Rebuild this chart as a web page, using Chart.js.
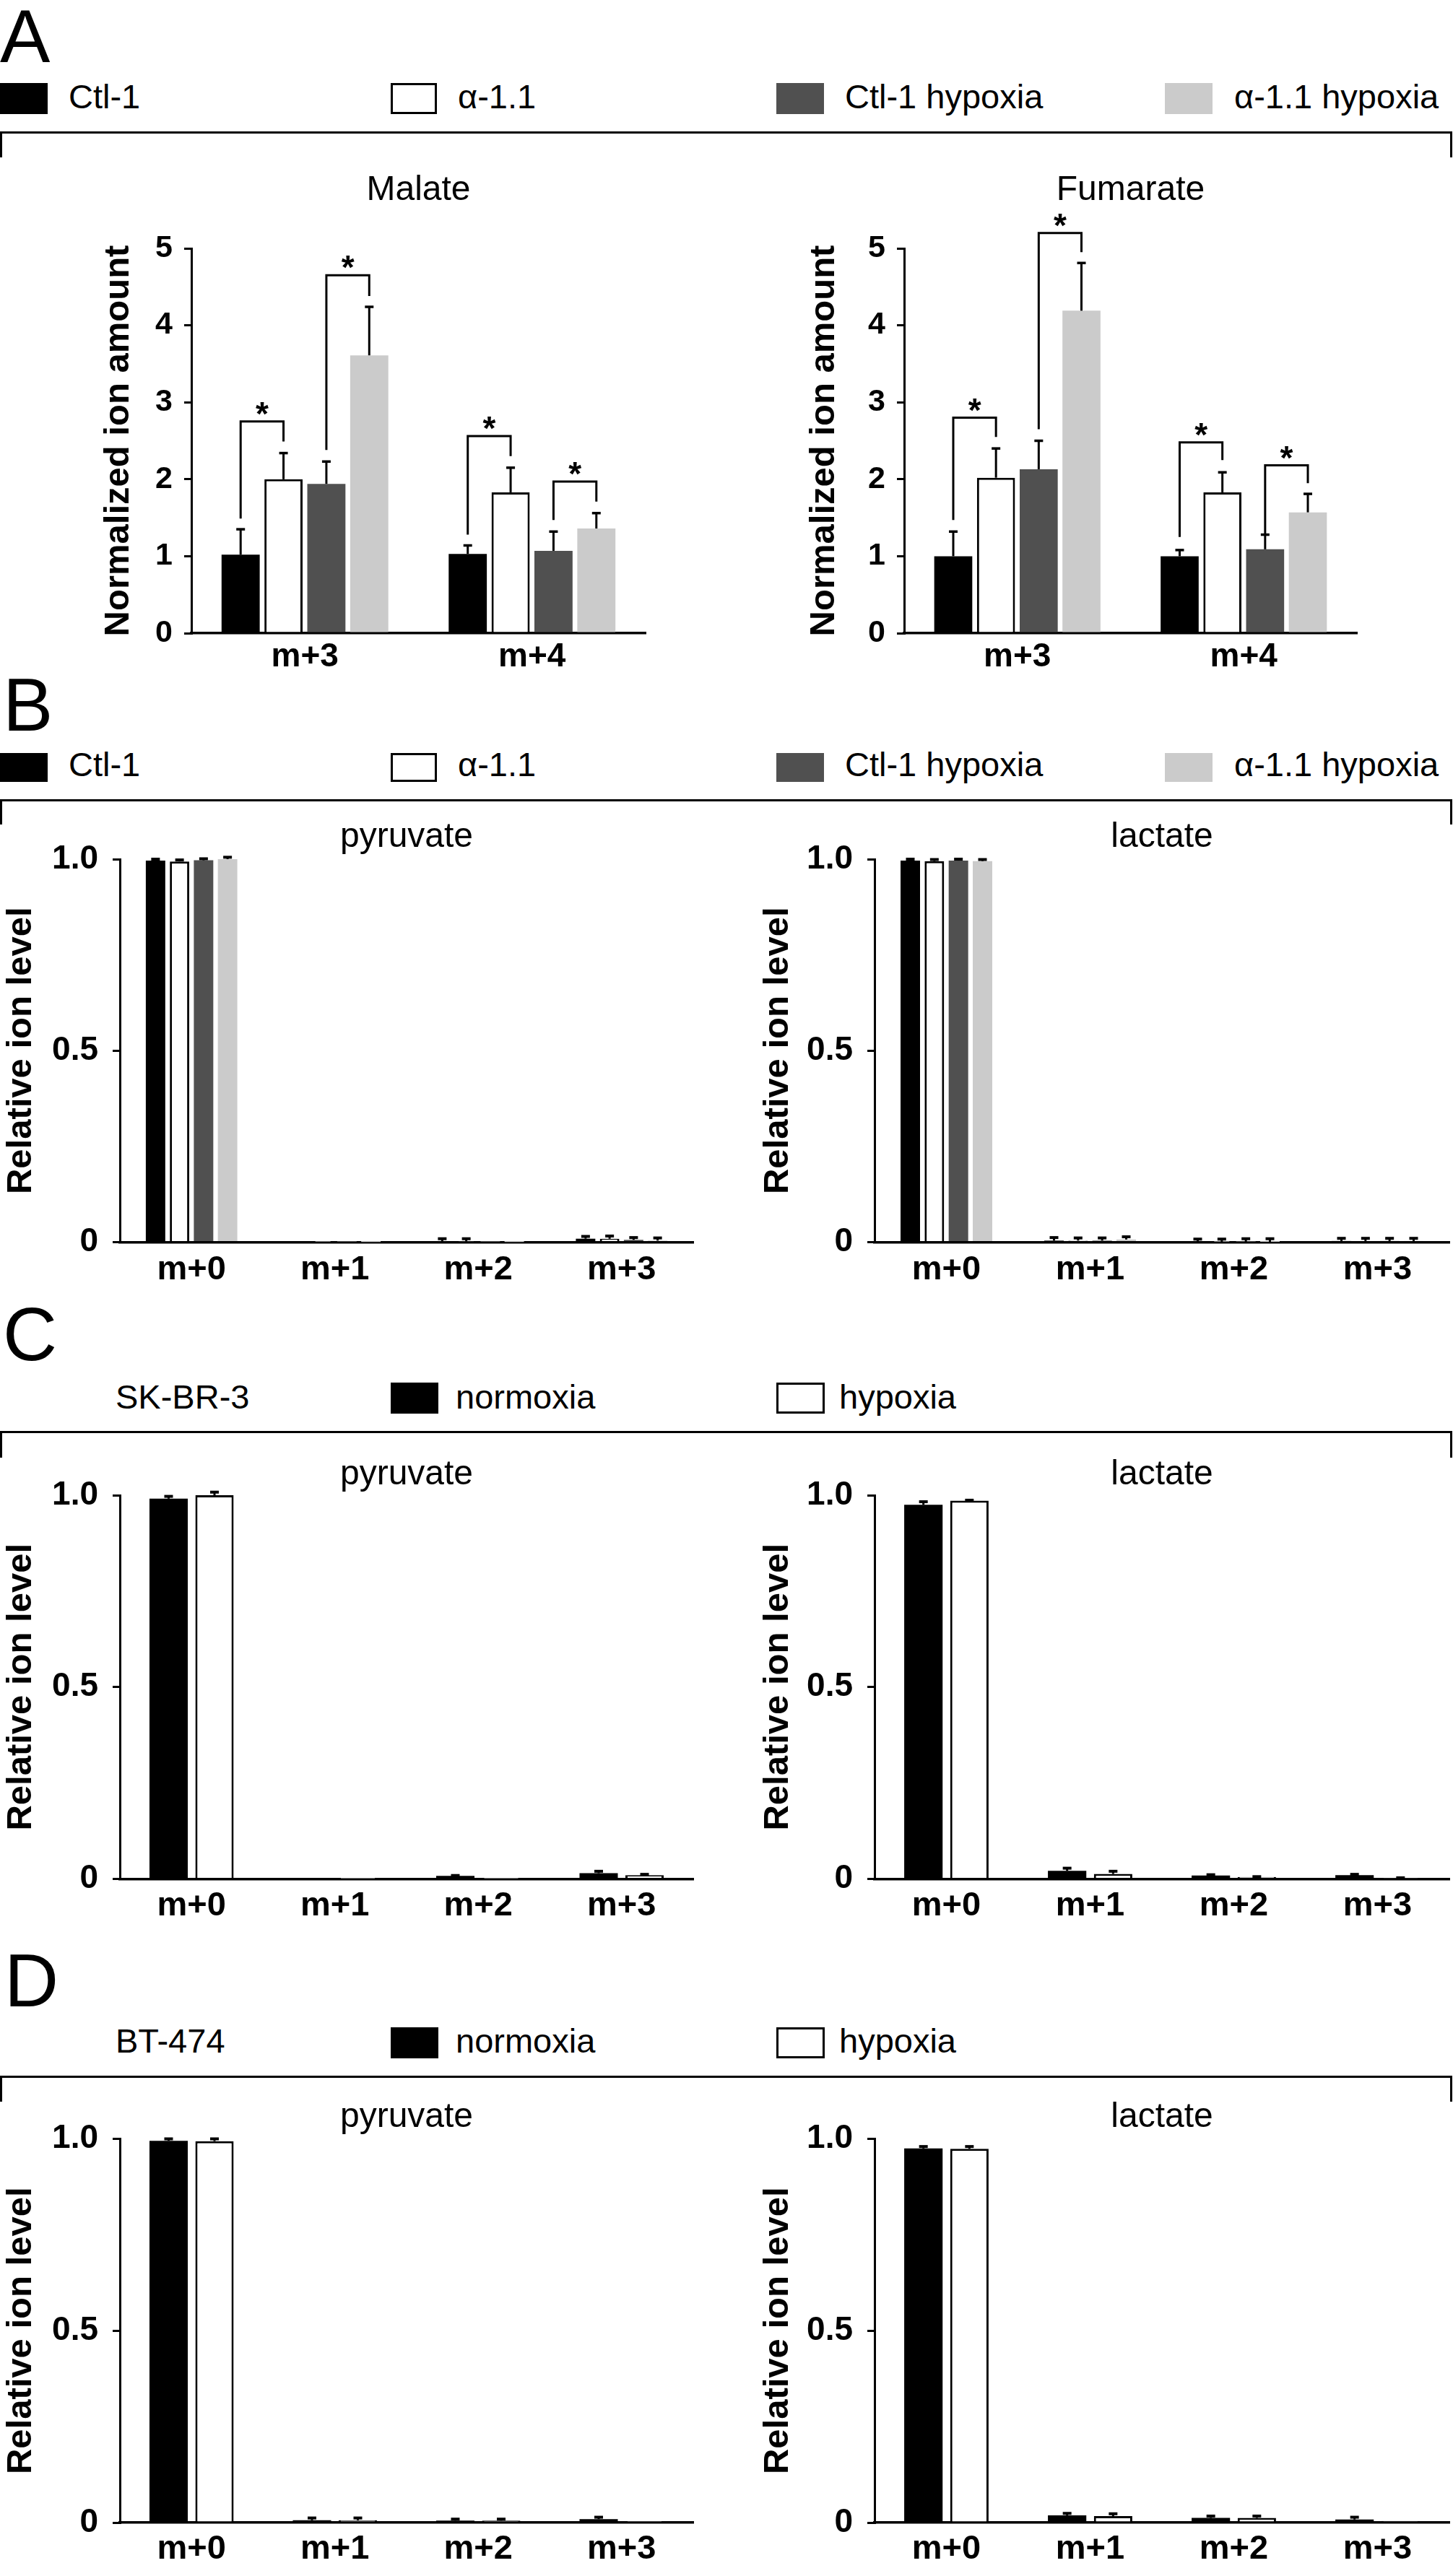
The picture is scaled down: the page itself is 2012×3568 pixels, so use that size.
<!DOCTYPE html>
<html>
<head>
<meta charset="utf-8">
<script src="https://cdn.jsdelivr.net/npm/chart.js@4.4.1/dist/chart.umd.min.js"></script>
<style>
html,body{margin:0;padding:0;background:#fff;overflow:hidden;}
#page{position:relative;width:2012px;height:3568px;overflow:hidden;background:#fff;font-family:"Liberation Sans",Arial,Helvetica,sans-serif;color:#000;}
.t{position:absolute;white-space:nowrap;line-height:1;}
.box{position:absolute;box-sizing:border-box;}
.ln{position:absolute;background:#000;}
canvas{position:absolute;}
</style>
</head>
<body>
<div id="page"></div>
<script>
// ---------------- DATA ----------------
const panelLetters = ['A', 'B', 'C', 'D'];
const groupsAB = ['Ctl-1', 'α-1.1', 'Ctl-1 hypoxia', 'α-1.1 hypoxia'];
const groupsCD = ['normoxia', 'hypoxia'];
const cellLineC = 'SK-BR-3';
const cellLineD = 'BT-474';
const isotopesA = ['m+3', 'm+4'];
const isotopesB = ['m+0', 'm+1', 'm+2', 'm+3'];
const tickValsA = [0, 1, 2, 3, 4, 5];
const tickLabelsA = ['0', '1', '2', '3', '4', '5'];
const tickValsB = [0, 0.5, 1];
const tickLabelsB = ['0', '0.5', '1.0'];
const yTitleA = 'Normalized ion amount';
const yTitleB = 'Relative ion level';
const titlesA = ['Malate', 'Fumarate'];
const titlesB = ['pyruvate', 'lactate'];

// Panel A - Malate (mean, SD)
const malateCtl = [1.02, 1.03];
const malateAlpha = [2.00, 1.83];
const malateCtlHyp = [1.94, 1.07];
const malateAlphaHyp = [3.61, 1.36];
const malateCtlSd = [0.33, 0.11];
const malateAlphaSd = [0.34, 0.32];
const malateCtlHypSd = [0.29, 0.25];
const malateAlphaHypSd = [0.63, 0.20];
// significance brackets: [category, fromGroup, toGroup, leftLegEnd, rightLegEnd, top]
const malateSig = [[0, 0, 1, 1.49, 2.49, 2.75], [0, 2, 3, 2.38, 4.38, 4.65], [1, 0, 1, 1.28, 2.30, 2.56], [1, 2, 3, 1.47, 1.71, 1.97]];

// Panel A - Fumarate
const fumarateCtl = [1.00, 1.00];
const fumarateAlpha = [2.02, 1.83];
const fumarateCtlHyp = [2.13, 1.09];
const fumarateAlphaHyp = [4.19, 1.57];
const fumarateCtlSd = [0.32, 0.08];
const fumarateAlphaSd = [0.38, 0.26];
const fumarateCtlHypSd = [0.37, 0.19];
const fumarateAlphaHypSd = [0.62, 0.24];
const fumarateSig = [[0, 0, 1, 1.47, 2.55, 2.80], [0, 2, 3, 2.65, 4.95, 5.20], [1, 0, 1, 1.25, 2.25, 2.48], [1, 2, 3, 1.27, 1.95, 2.18]];

// Panel B - pyruvate
const bPyrCtl = [0.996, 0.0005, 0.002, 0.009];
const bPyrAlpha = [0.994, 0.0005, 0.002, 0.009];
const bPyrCtlHyp = [0.997, 0.0005, 0.0005, 0.006];
const bPyrAlphaHyp = [1.000, 0.0005, 0.0005, 0.004];
const bPyrCtlSd = [0.004, 0, 0.007, 0.006];
const bPyrAlphaSd = [0.004, 0, 0.007, 0.007];
const bPyrCtlHypSd = [0.004, 0, 0, 0.006];
const bPyrAlphaHypSd = [0.005, 0, 0, 0.007];
// Panel B - lactate
const bLacCtl = [0.996, 0.004, 0.001, 0.003];
const bLacAlpha = [0.995, 0.004, 0.001, 0.003];
const bLacCtlHyp = [0.996, 0.004, 0.001, 0.003];
const bLacAlphaHyp = [0.995, 0.007, 0.001, 0.003];
const bLacCtlSd = [0.004, 0.008, 0.007, 0.007];
const bLacAlphaSd = [0.004, 0.007, 0.007, 0.007];
const bLacCtlHypSd = [0.004, 0.007, 0.008, 0.007];
const bLacAlphaHypSd = [0.004, 0.007, 0.008, 0.007];

// Panel C - SK-BR-3
const cPyrNorm = [0.991, 0.001, 0.008, 0.015];
const cPyrHyp = [1.000, 0.001, 0.001, 0.010];
const cPyrNormSd = [0.006, 0, 0.001, 0.005];
const cPyrHypSd = [0.008, 0, 0, 0.002];
const cLacNorm = [0.975, 0.021, 0.009, 0.010];
const cLacHyp = [0.986, 0.013, 0.005, 0.002];
const cLacNormSd = [0.008, 0.007, 0.002, 0.002];
const cLacHypSd = [0.001, 0.007, 0.001, 0.001];

// Panel D - BT-474
const dPyrNorm = [0.995, 0.006, 0.005, 0.009];
const dPyrHyp = [0.994, 0.006, 0.005, 0.001];
const dPyrNormSd = [0.005, 0.006, 0.004, 0.005];
const dPyrHypSd = [0.006, 0.006, 0.004, 0];
const dLacNorm = [0.975, 0.019, 0.012, 0.008];
const dLacHyp = [0.974, 0.017, 0.012, 0.004];
const dLacNormSd = [0.005, 0.005, 0.005, 0.006];
const dLacHypSd = [0.006, 0.006, 0.005, 0];

// ---------------- STYLE / LAYOUT ----------------
const FONT = '"Liberation Sans", Arial, Helvetica, sans-serif';
Chart.defaults.font.family = FONT;
Chart.defaults.color = '#000';

const fills4 = ['#000000', '#ffffff', '#505050', '#cbcbcb'];
const borders4 = [0, 3, 0, 0];
const fills2 = ['#000000', '#ffffff'];
const borders2 = [0, 3];

const page = document.getElementById('page');

function addText(str, x, baseline, size, weight) {
  const d = document.createElement('div');
  d.className = 't';
  d.textContent = str;
  d.style.left = x + 'px';
  d.style.top = (baseline - 0.8465 * size) + 'px';
  d.style.fontSize = size + 'px';
  if (weight) d.style.fontWeight = weight;
  page.appendChild(d);
}
function addBox(x, y, w, h, fill, outline) {
  const d = document.createElement('div');
  d.className = 'box';
  d.style.left = x + 'px'; d.style.top = y + 'px';
  d.style.width = w + 'px'; d.style.height = h + 'px';
  d.style.background = fill;
  if (outline) d.style.border = '3px solid #000';
  page.appendChild(d);
}
function addLine(x, y, w, h) {
  const d = document.createElement('div');
  d.className = 'ln';
  d.style.left = x + 'px'; d.style.top = y + 'px';
  d.style.width = w + 'px'; d.style.height = h + 'px';
  page.appendChild(d);
}
function addBrace(y, bottom) {
  addLine(0, y, 2011, 3);
  addLine(0, y, 3, bottom - y);
  addLine(2008, y, 3, bottom - y);
}

// Panel letters
addText(panelLetters[0], 0, 86, 104);
addText(panelLetters[1], 4, 1012, 104);
addText(panelLetters[2], 4, 1884, 104);
addText(panelLetters[3], 6, 2779, 104);

// Legends
const legX = [0, 541, 1075, 1613];
const legTX = [95, 634, 1170, 1709];
function legend4(boxTop, boxH, baseline) {
  for (let i = 0; i < 4; i++) {
    addBox(legX[i], boxTop, i === 1 ? 64 : 66, boxH, fills4[i], borders4[i] > 0);
    addText(groupsAB[i], legTX[i], baseline, 47);
  }
}
legend4(115, 43, 150);
legend4(1043, 40, 1075);
function legend2(name, boxTop, boxH, baseline) {
  addText(name, 160, baseline, 47);
  addBox(541, boxTop, 66, boxH, fills2[0], false);
  addText(groupsCD[0], 631, baseline, 47);
  addBox(1075, boxTop, 67, boxH, fills2[1], true);
  addText(groupsCD[1], 1162, baseline, 47);
}
legend2(cellLineC, 1915, 43, 1951);
legend2(cellLineD, 2808, 43, 2843);

// Braces
addBrace(182, 218);
addBrace(1107, 1142);
addBrace(1982, 2019);
addBrace(2875, 2911);

// ---------------- PLUGINS ----------------
function errorBarPlugin(capWidth, lineWidth, capLine) {
  return {
    id: 'errorBars',
    afterDatasetsDraw(chart) {
      const ctx = chart.ctx, ys = chart.scales.y;
      ctx.save();
      ctx.strokeStyle = '#000';
      ctx.lineCap = 'butt';
      chart.data.datasets.forEach((ds, di) => {
        const meta = chart.getDatasetMeta(di);
        meta.data.forEach((bar, i) => {
          const sd = ds.errors[i];
          if (!sd) return;
          const top = ys.getPixelForValue(ds.data[i] + sd);
          ctx.lineWidth = lineWidth;
          ctx.beginPath(); ctx.moveTo(bar.x, bar.y); ctx.lineTo(bar.x, top); ctx.stroke();
          ctx.lineWidth = capLine;
          ctx.beginPath(); ctx.moveTo(bar.x - capWidth / 2, top); ctx.lineTo(bar.x + capWidth / 2, top); ctx.stroke();
        });
      });
      ctx.restore();
    }
  };
}
function bracketPlugin(items) {
  return {
    id: 'sigBrackets',
    afterDatasetsDraw(chart) {
      if (!items) return;
      const ctx = chart.ctx, ys = chart.scales.y;
      ctx.save();
      ctx.strokeStyle = '#000'; ctx.fillStyle = '#000';
      ctx.lineWidth = 3;
      ctx.lineJoin = 'miter';
      ctx.font = 'bold 46px ' + FONT;
      ctx.textAlign = 'center'; ctx.textBaseline = 'alphabetic';
      items.forEach(([cat, a, b, legA, legB, topV]) => {
        const xa = chart.getDatasetMeta(a).data[cat].x;
        const xb = chart.getDatasetMeta(b).data[cat].x;
        const yt = ys.getPixelForValue(topV);
        ctx.beginPath();
        ctx.moveTo(xa, ys.getPixelForValue(legA));
        ctx.lineTo(xa, yt);
        ctx.lineTo(xb, yt);
        ctx.lineTo(xb, ys.getPixelForValue(legB));
        ctx.stroke();
        ctx.fillText('*', (xa + xb) / 2, yt + 5);
      });
      ctx.restore();
    }
  };
}

// ---------------- CHART FACTORY ----------------
function makeChart(cfg) {
  const c = document.createElement('canvas');
  const w = cfg.x1 - cfg.x0, h = cfg.y1 - cfg.y0;
  c.width = w; c.height = h;
  c.style.left = cfg.x0 + 'px'; c.style.top = cfg.y0 + 'px';
  c.style.width = w + 'px'; c.style.height = h + 'px';
  page.appendChild(c);
  const plugins = [errorBarPlugin(cfg.capW, 3, cfg.capLine)];
  if (cfg.brackets) plugins.push(bracketPlugin(cfg.brackets));
  return new Chart(c, {
    type: 'bar',
    data: {
      labels: cfg.labels,
      datasets: cfg.series.map((name, i) => ({
        label: name,
        data: cfg.values[i],
        errors: cfg.errors[i],
        backgroundColor: cfg.fills[i],
        borderColor: '#000',
        borderWidth: cfg.borders[i],
        categoryPercentage: cfg.catPct,
        barPercentage: cfg.barPct,
        clip: false
      }))
    },
    options: {
      responsive: false,
      animation: false,
      devicePixelRatio: 1,
      layout: { padding: { left: 0, right: cfg.padRight, top: 0, bottom: 0 } },
      plugins: {
        legend: { display: false },
        tooltip: { enabled: false },
        title: {
          display: true, text: cfg.title, fullSize: false, color: '#000',
          font: { size: 48, weight: 'normal', lineHeight: 1 },
          padding: { top: cfg.titleTop, bottom: cfg.titleBottom }
        }
      },
      scales: {
        x: {
          grid: { display: false, drawTicks: false },
          border: { display: true, color: '#000', width: 3.5 },
          ticks: { font: { size: cfg.xFont, weight: 'bold', lineHeight: 1 }, padding: cfg.xPad, color: '#000', maxRotation: 0, autoSkip: false },
          afterFit: s => { s.height = cfg.xHeight; }
        },
        y: {
          min: 0, max: cfg.yMax,
          afterBuildTicks: s => { s.ticks = cfg.tickVals.map(v => ({ value: v })); },
          ticks: {
            font: { size: cfg.yFont, weight: 'bold', lineHeight: 1 }, padding: cfg.yPad, color: '#000',
            callback: v => cfg.tickLabels[cfg.tickVals.indexOf(v)]
          },
          grid: { display: true, drawOnChartArea: false, drawTicks: true, tickLength: 10, tickWidth: 3, tickColor: '#000', lineWidth: 3, color: '#000' },
          border: { display: true, color: '#000', width: 3 },
          title: {
            display: true, text: cfg.yTitle, color: '#000',
            font: { size: 49, weight: 'bold', lineHeight: 1 },
            padding: { top: cfg.yTitlePad, bottom: 0 }
          },
          afterFit: s => { s.width = cfg.yWidth; }
        }
      }
    },
    plugins: plugins
  });
}

// ---------------- PANEL A ----------------
const baseA = {
  labels: isotopesA, series: groupsAB, fills: fills4, borders: borders4,
  catPct: 0.755, barPct: 0.89, yMax: 5, tickVals: tickValsA, tickLabels: tickLabelsA,
  yTitle: yTitleA, y0: 200, y1: 950, titleTop: 39.4, titleBottom: 56.6,
  xHeight: 73, xFont: 46, xPad: 10, yFont: 43, yPad: 16, capW: 12, capLine: 3.5
};
makeChart(Object.assign({}, baseA, {
  title: titlesA[0], x0: 100, x1: 910, padRight: 16, yWidth: 165, yTitlePad: 39.5,
  values: [malateCtl, malateAlpha, malateCtlHyp, malateAlphaHyp],
  errors: [malateCtlSd, malateAlphaSd, malateCtlHypSd, malateAlphaHypSd],
  brackets: malateSig
}));
makeChart(Object.assign({}, baseA, {
  title: titlesA[1], x0: 1100, x1: 1900, padRight: 21, yWidth: 152, yTitlePad: 16.5,
  values: [fumarateCtl, fumarateAlpha, fumarateCtlHyp, fumarateAlphaHyp],
  errors: [fumarateCtlSd, fumarateAlphaSd, fumarateCtlHypSd, fumarateAlphaHypSd],
  brackets: fumarateSig
}));

// ---------------- PANELS B-D ----------------
const leftGeo = { x0: 0, x1: 980, padRight: 20, yWidth: 166, yTitlePad: 4.5 };
const rightGeo = { x0: 1040, x1: 2012, padRight: 5, yWidth: 171, yTitlePad: 12.5 };
const baseRel = {
  labels: isotopesB, yMax: 1, tickVals: tickValsB, tickLabels: tickLabelsB, yTitle: yTitleB,
  xFont: 47, yFont: 46, yPad: 20, capW: 12, capLine: 4
};
const geoB = { y0: 1115, y1: 1800, titleTop: 20.4, titleBottom: 6.6, xHeight: 79.5, xPad: 14.7 };
const geoC = { y0: 1990, y1: 2680, titleTop: 28.4, titleBottom: 4.6, xHeight: 77.5, xPad: 13.7 };
const geoD = { y0: 2880, y1: 3568, titleTop: 28.4, titleBottom: 6.1, xHeight: 74, xPad: 13.2 };
const four = { series: groupsAB, fills: fills4, borders: borders4, catPct: 0.67, barPct: 0.81 };
const two = { series: groupsCD, fills: fills2, borders: borders2, catPct: 0.64, barPct: 0.835 };

makeChart(Object.assign({}, baseRel, geoB, leftGeo, four, {
  title: titlesB[0],
  values: [bPyrCtl, bPyrAlpha, bPyrCtlHyp, bPyrAlphaHyp],
  errors: [bPyrCtlSd, bPyrAlphaSd, bPyrCtlHypSd, bPyrAlphaHypSd]
}));
makeChart(Object.assign({}, baseRel, geoB, rightGeo, four, {
  title: titlesB[1],
  values: [bLacCtl, bLacAlpha, bLacCtlHyp, bLacAlphaHyp],
  errors: [bLacCtlSd, bLacAlphaSd, bLacCtlHypSd, bLacAlphaHypSd]
}));
makeChart(Object.assign({}, baseRel, geoC, leftGeo, two, {
  title: titlesB[0], values: [cPyrNorm, cPyrHyp], errors: [cPyrNormSd, cPyrHypSd]
}));
makeChart(Object.assign({}, baseRel, geoC, rightGeo, two, {
  title: titlesB[1], values: [cLacNorm, cLacHyp], errors: [cLacNormSd, cLacHypSd]
}));
makeChart(Object.assign({}, baseRel, geoD, leftGeo, two, {
  title: titlesB[0], values: [dPyrNorm, dPyrHyp], errors: [dPyrNormSd, dPyrHypSd]
}));
makeChart(Object.assign({}, baseRel, geoD, rightGeo, two, {
  title: titlesB[1], values: [dLacNorm, dLacHyp], errors: [dLacNormSd, dLacHypSd]
}));
</script>
</body>
</html>
